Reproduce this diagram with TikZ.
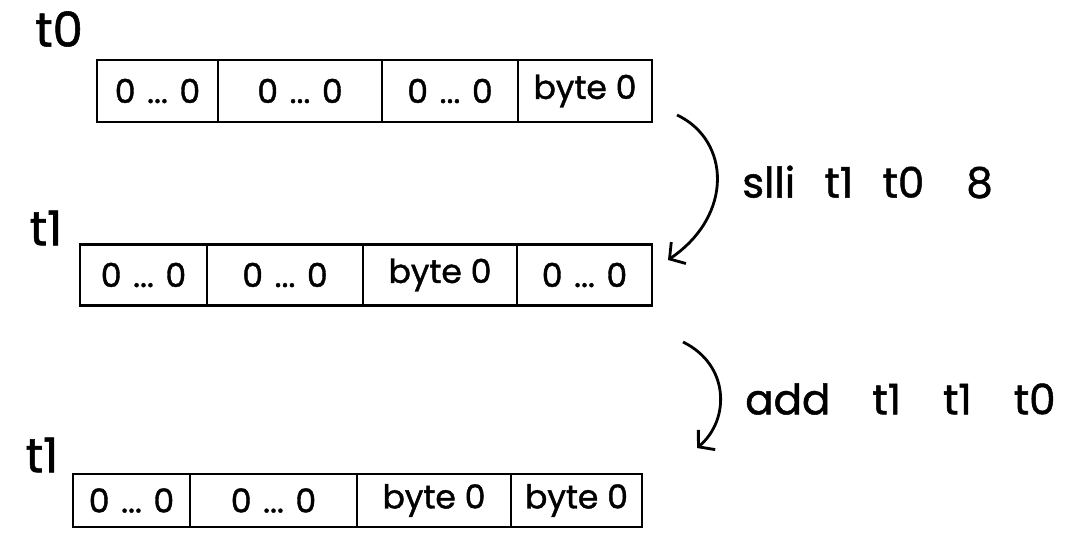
\documentclass[tikz,border=0pt]{standalone}
\usepackage{fontspec}
\setmainfont[FakeBold=1.2]{Poppins}
\usetikzlibrary{arrows.meta}
\begin{document}
\begin{tikzpicture}[x=1pt,y=-1pt,
  cell/.style={draw, line width=2.8pt, inner sep=0pt, font=\fontsize{33}{35}\selectfont},
  reglabel/.style={font=\fontsize{48}{50}\selectfont, inner sep=0pt},
  oplabel/.style={font=\fontsize{42}{44}\selectfont, inner sep=0pt, anchor=west},
  flow/.style={line width=2.8pt, -{Straight Barb[length=11pt,width=26pt,line width=2.8pt]}}]
\useasboundingbox (0,0) rectangle (1092,533);
\newcommand{\zz}{0\hspace{0.35em}...\hspace{0.35em}0}
% register labels
\node[reglabel] (l0) at (59,29) {t0};
\node[reglabel] (l1) at (46,228) {t1};
\node[reglabel] (l2) at (42,455) {t1};
% row 1 : t0
\node[cell, minimum width=121pt, minimum height=62pt] (a1) at (157.5,91) {\zz};
\node[cell, minimum width=164pt, minimum height=62pt] (a2) at (300,91) {\zz};
\node[cell, minimum width=136pt, minimum height=62pt] (a3) at (450,91) {\zz};
\node[cell, minimum width=134pt, minimum height=62pt] (a4) at (585,91) {byte 0};
% row 2 : t1 after slli
\node[cell, minimum width=127pt, minimum height=61pt] (b1) at (143.5,275) {\zz};
\node[cell, minimum width=156pt, minimum height=61pt] (b2) at (285,275) {\zz};
\node[cell, minimum width=154pt, minimum height=61pt] (b3) at (440,275) {byte 0};
\node[cell, minimum width=135pt, minimum height=61pt] (b4) at (584.5,275) {\zz};
% row 3 : t1 after add
\node[cell, minimum width=117pt, minimum height=53pt] (c1) at (131.5,500.5) {\zz};
\node[cell, minimum width=167pt, minimum height=53pt] (c2) at (273.5,500.5) {\zz};
\node[cell, minimum width=154pt, minimum height=53pt] (c3) at (434,500.5) {byte 0};
\node[cell, minimum width=131pt, minimum height=53pt] (c4) at (576.5,500.5) {byte 0};
% arrows
\coordinate (s1) at (677,115);
\coordinate (e1) at (668,260);
\coordinate (s2) at (683,342);
\coordinate (e2) at (697,448);
\draw[flow] (s1) .. controls (730,140) and (734,215) .. (e1);
\draw[flow] (s2) .. controls (730,365) and (730,420) .. (e2);
\node[oplabel] (op1) at (742,182) {slli\hspace{0.7em}t1\hspace{0.7em}t0\hspace{1em}8};
\node[oplabel] (op2) at (745,399) {add\hspace{1em}t1\hspace{1em}t1\hspace{1em}t0};
\end{tikzpicture}
\end{document}
